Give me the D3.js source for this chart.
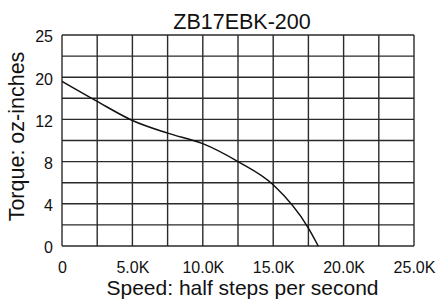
<!DOCTYPE html>
<html>
<head>
<meta charset="utf-8">
<script src="https://cdn.jsdelivr.net/npm/d3@7"></script>
<style>
  html, body { margin: 0; padding: 0; background: #fff; }
  svg { display: block; font-family: "Liberation Sans", Arial, sans-serif; }
</style>
</head>
<body>
<svg id="chart" width="438" height="299"></svg>
<script>
// Data
const speeds = [0, 2500, 5000, 7500, 10000, 12500, 15000, 17500, 18200];
const torque = [15.6, 13.7, 11.9, 10.7, 9.7, 8.0, 5.8, 1.7, 0];
const xTickValues = [0, 5000, 10000, 15000, 20000, 25000];
const xTickLabels = ["0", "5.0K", "10.0K", "15.0K", "20.0K", "25.0K"];
const yTickValues = [0, 4, 8, 12, 16, 20];
const yTickLabels = ["0", "4", "8", "12", "20", "25"];
const xGridValues = d3.range(0, 25001, 2500);
const yGridValues = d3.range(0, 20.01, 2);
const chartTitle = "ZB17EBK-200";
const xTitle = "Speed: half steps per second";
const yTitle = "Torque: oz-inches";

const svg = d3.select("#chart");
const mLeft = 62, mRight = 414, mTop = 35, mBottom = 246;
const x = d3.scaleLinear().domain([0, 25000]).range([mLeft, mRight]);
const y = d3.scaleLinear().domain([0, 20]).range([mBottom, mTop]);

const gridColor = "#2a2a2a";

// Grid
svg.append("g").selectAll("line").data(xGridValues).join("line")
  .attr("x1", d => x(d)).attr("x2", d => x(d))
  .attr("y1", mTop).attr("y2", mBottom)
  .attr("stroke", gridColor).attr("stroke-width", 1.4);
svg.append("g").selectAll("line").data(yGridValues).join("line")
  .attr("x1", mLeft).attr("x2", mRight)
  .attr("y1", d => y(d)).attr("y2", d => y(d))
  .attr("stroke", gridColor).attr("stroke-width", 1.4);

// Axes (labels only)
const xAxis = d3.axisBottom(x).tickValues(xTickValues)
  .tickFormat((d, i) => xTickLabels[i]).tickSize(0).tickPadding(0);
const gx = svg.append("g").attr("transform", `translate(0,${mBottom})`).call(xAxis);
gx.select(".domain").remove();
gx.selectAll("text").attr("font-size", 16).attr("fill", "#111")
  .attr("font-family", "Liberation Sans, Arial, sans-serif")
  .attr("dy", null).attr("y", 27);

const yAxis = d3.axisLeft(y).tickValues(yTickValues)
  .tickFormat((d, i) => yTickLabels[i]).tickSize(0).tickPadding(0);
const gy = svg.append("g").call(yAxis);
gy.select(".domain").remove();
gy.selectAll("text").attr("font-size", 16).attr("fill", "#111")
  .attr("font-family", "Liberation Sans, Arial, sans-serif")
  .attr("x", 53).attr("dy", "0.62em").attr("y", -3);

// Curve
const pts = speeds.map((s, i) => [s, torque[i]]);
const line = d3.line().x(d => x(d[0])).y(d => y(d[1])).curve(d3.curveMonotoneX);
svg.append("path").datum(pts)
  .attr("d", line).attr("fill", "none")
  .attr("stroke", "#111").attr("stroke-width", 1.5);

// Titles
svg.append("text").attr("x", 242).attr("y", 28.5).attr("text-anchor", "middle")
  .attr("font-size", 21.5).attr("fill", "#111").text(chartTitle);
svg.append("text").attr("x", 242.5).attr("y", 294.5).attr("text-anchor", "middle")
  .attr("font-size", 21).attr("fill", "#111").text(xTitle);
svg.append("text").attr("transform", "translate(24,136.5) rotate(-90)")
  .attr("text-anchor", "middle")
  .attr("font-size", 21.5).attr("fill", "#111").text(yTitle);
</script>
</body>
</html>
